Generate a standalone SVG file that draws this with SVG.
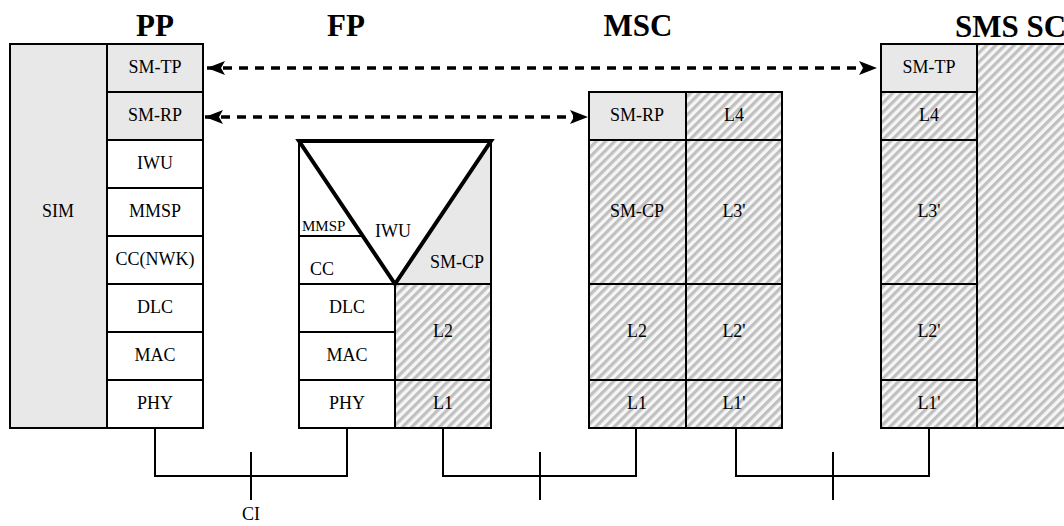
<svg xmlns="http://www.w3.org/2000/svg" width="1064" height="526" viewBox="0 0 1064 526">
<defs>
<pattern id="hatch" patternUnits="userSpaceOnUse" width="6.5" height="6.5" patternTransform="rotate(45)">
<rect width="6.5" height="6.5" fill="#f6f6f6"/>
<rect width="3.2" height="6.5" fill="#c0c0c0"/>
</pattern>
<marker id="ah" markerUnits="userSpaceOnUse" markerWidth="22" markerHeight="18" viewBox="-19 -9 21 18" refX="0" refY="0" orient="auto-start-reverse">
<path d="M0,0 L-18,-7 L-14,0 L-18,7 Z" fill="#000"/>
</marker>
<style>
.c{stroke:#000;stroke-width:2}
.g{fill:#e8e8e8}
.w{fill:#fff}
.h{fill:url(#hatch)}
text{font-family:"Liberation Serif","Times New Roman",serif;font-size:18px;fill:#000;text-anchor:middle}
.t{font-size:31px;font-weight:bold}
.sm{font-size:15px}
.ln{stroke:#000;stroke-width:2;fill:none}
.ar{stroke:#000;stroke-width:3.5;stroke-dasharray:9 7;fill:none}
</style>
</defs>
<rect width="1064" height="526" fill="#fff"/>

<g id="titles">
<text class="t" x="155" y="36">PP</text>
<text class="t" x="346" y="36">FP</text>
<text class="t" x="638" y="36">MSC</text>
<text class="t" x="955" y="37" style="text-anchor:start">SMS SC</text>
</g>

<g id="pp">
<rect class="c g" x="10" y="44" width="97" height="384"/>
<rect class="c g" x="107" y="44" width="96" height="48"/>
<rect class="c g" x="107" y="92" width="96" height="48"/>
<rect class="c w" x="107" y="140" width="96" height="48"/>
<rect class="c w" x="107" y="188" width="96" height="48"/>
<rect class="c w" x="107" y="236" width="96" height="48"/>
<rect class="c w" x="107" y="284" width="96" height="48"/>
<rect class="c w" x="107" y="332" width="96" height="48"/>
<rect class="c w" x="107" y="380" width="96" height="48"/>
<text x="58" y="217">SIM</text>
<text x="155" y="73">SM-TP</text>
<text x="155" y="121">SM-RP</text>
<text x="155" y="169">IWU</text>
<text x="155" y="217">MMSP</text>
<text x="155" y="265">CC(NWK)</text>
<text x="155" y="313">DLC</text>
<text x="155" y="361">MAC</text>
<text x="155" y="409">PHY</text>
</g>

<g id="fp">
<polygon class="w" points="299,141 395,284 299,284"/>
<polygon class="g" points="491,141 491,284 395,284"/>
<polygon class="w" points="299,141 491,141 395,284"/>
<rect class="c w" x="299" y="284" width="96" height="48"/>
<rect class="c w" x="299" y="332" width="96" height="48"/>
<rect class="c w" x="299" y="380" width="96" height="48"/>
<rect class="c h" x="395" y="284" width="96" height="96"/>
<rect class="c h" x="395" y="380" width="96" height="48"/>
<path class="ln" d="M299,141 V284 H491 V141"/>
<path class="ln" d="M299,236 H363"/>
<polygon points="299,141 491,141 395,284" fill="none" stroke="#000" stroke-width="4" stroke-linejoin="miter"/>
<text class="sm" x="302" y="231" style="text-anchor:start">MMSP</text>
<text x="393" y="237">IWU</text>
<text x="310" y="275" style="text-anchor:start">CC</text>
<text x="457" y="268">SM-CP</text>
<text x="347" y="313">DLC</text>
<text x="347" y="361">MAC</text>
<text x="347" y="409">PHY</text>
<text x="443" y="337">L2</text>
<text x="443" y="409">L1</text>
</g>

<g id="msc">
<rect class="c g" x="589" y="92" width="97" height="48"/>
<rect class="c h" x="686" y="92" width="96" height="48"/>
<rect class="c h" x="589" y="140" width="97" height="144"/>
<rect class="c h" x="686" y="140" width="96" height="144"/>
<rect class="c h" x="589" y="284" width="97" height="96"/>
<rect class="c h" x="686" y="284" width="96" height="96"/>
<rect class="c h" x="589" y="380" width="97" height="48"/>
<rect class="c h" x="686" y="380" width="96" height="48"/>
<text x="637" y="121">SM-RP</text>
<text x="734" y="121">L4</text>
<text x="637" y="217">SM-CP</text>
<text x="734" y="217">L3'</text>
<text x="637" y="337">L2</text>
<text x="734" y="337">L2'</text>
<text x="637" y="409">L1</text>
<text x="734" y="409">L1'</text>
</g>

<g id="smssc">
<rect class="c h" x="977" y="44" width="100" height="384"/>
<rect class="c g" x="881" y="44" width="96" height="48"/>
<rect class="c h" x="881" y="92" width="96" height="48"/>
<rect class="c h" x="881" y="140" width="96" height="144"/>
<rect class="c h" x="881" y="284" width="96" height="96"/>
<rect class="c h" x="881" y="380" width="96" height="48"/>
<text x="929" y="73">SM-TP</text>
<text x="929" y="121">L4</text>
<text x="929" y="217">L3'</text>
<text x="929" y="337">L2'</text>
<text x="929" y="409">L1'</text>
</g>

<g id="connectors">
<line class="ar" x1="207" y1="68" x2="877" y2="68" marker-start="url(#ah)" marker-end="url(#ah)"/>
<line class="ar" x1="205" y1="117" x2="588" y2="117" marker-start="url(#ah)" marker-end="url(#ah)"/>
<path class="ln" d="M155,428 V476 H347 V428"/>
<path class="ln" d="M251,452 V500"/>
<path class="ln" d="M443,428 V476 H636 V428"/>
<path class="ln" d="M540,452 V500"/>
<path class="ln" d="M736,428 V476 H929 V428"/>
<path class="ln" d="M833,452 V500"/>
<text x="251" y="520">CI</text>
</g>
</svg>
